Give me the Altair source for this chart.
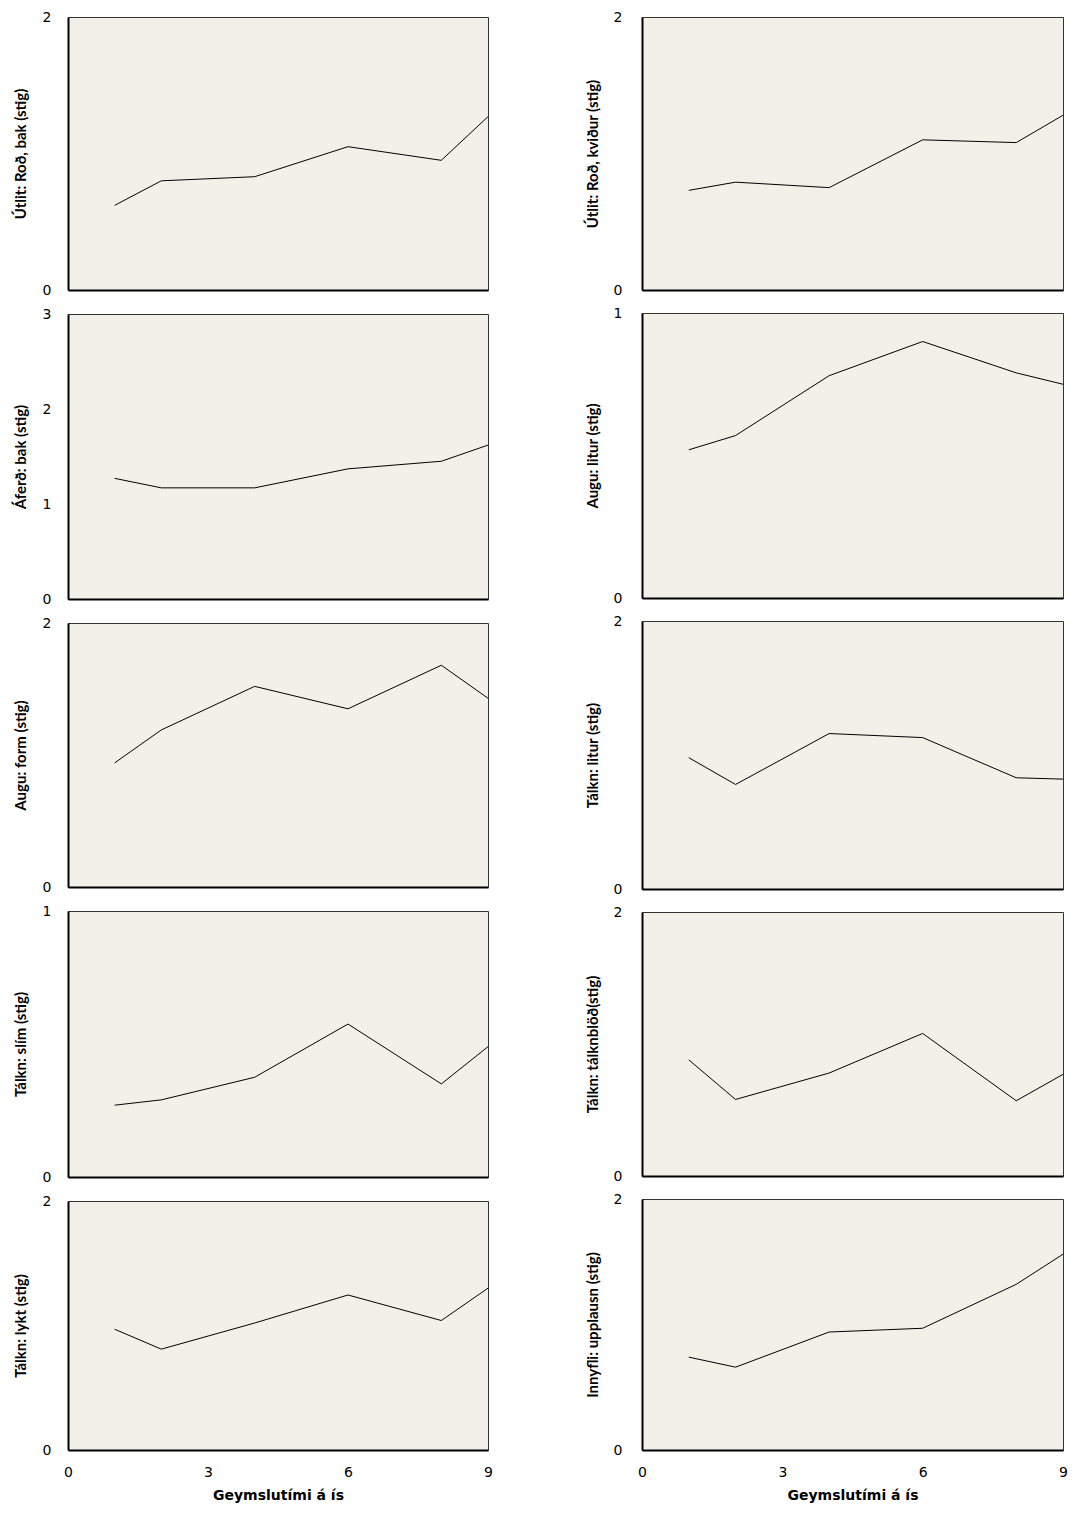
import altair as alt
import pandas as pd

# ---- data ----
days = [1, 2, 4, 6, 8, 9]
x_ticks = [0, 3, 6, 9]
x_title = "Geymslutími á ís"

left_titles = [
    "Útlit: Roð, bak (stig)",
    "Áferð: bak (stig)",
    "Augu: form (stig)",
    "Tálkn: slím (stig)",
    "Tálkn: lykt (stig)",
]
left_ymax = [2, 3, 2, 1, 2]
left_values = [
    [0.62, 0.80, 0.83, 1.05, 0.95, 1.27],
    [1.27, 1.17, 1.17, 1.37, 1.45, 1.62],
    [0.94, 1.19, 1.52, 1.35, 1.68, 1.43],
    [0.27, 0.29, 0.375, 0.575, 0.35, 0.49],
    [0.97, 0.81, 1.02, 1.245, 1.04, 1.30],
]

right_titles = [
    "Útlit: Roð, kviður (stig)",
    "Augu: litur (stig)",
    "Tálkn: litur (stig)",
    "Tálkn: tálknblöð(stig)",
    "Innyfli: upplausn (stig)",
]
right_ymax = [2, 1, 2, 2, 2]
right_values = [
    [0.73, 0.79, 0.75, 1.10, 1.08, 1.28],
    [0.52, 0.57, 0.78, 0.90, 0.79, 0.75],
    [0.98, 0.78, 1.16, 1.13, 0.83, 0.82],
    [0.88, 0.58, 0.78, 1.08, 0.57, 0.77],
    [0.74, 0.66, 0.94, 0.97, 1.32, 1.56],
]

left_heights = [273, 285, 264, 266, 249]
right_heights = [273, 285, 268, 264, 251]

TICK_FONT = "DejaVu Sans"
TITLE_FONT = "Lato"


def panel(title, values, ymax, width, height, bottom, label_pad, title_pad):
    df = pd.DataFrame({"dagar": days, "stig": values})
    if bottom:
        xaxis = alt.Axis(
            values=x_ticks, ticks=False, grid=False, labelFlush=False,
            format="d",
            domainColor="black", domainWidth=2,
            labelFont=TICK_FONT, labelFontSize=14, labelColor="black",
            labelPadding=15,
            titleFont=TICK_FONT, titleFontSize=14, titleFontWeight="bold",
            titleColor="black", titlePadding=9,
        )
        xenc = alt.X("dagar:Q", title=x_title, axis=xaxis,
                     scale=alt.Scale(domain=[0, 9], nice=False))
    else:
        xaxis = alt.Axis(
            values=x_ticks, ticks=False, grid=False, labels=False,
            domainColor="black", domainWidth=2,
        )
        xenc = alt.X("dagar:Q", title=None, axis=xaxis,
                     scale=alt.Scale(domain=[0, 9], nice=False))
    yaxis = alt.Axis(
        values=list(range(ymax + 1)), ticks=False, grid=False, format="d",
        domainColor="black", domainWidth=2,
        labelFont=TICK_FONT, labelFontSize=14, labelColor="black",
        labelPadding=label_pad,
        titleFont=TITLE_FONT, titleFontSize=15, titleFontWeight="bold",
        titleColor="black", titlePadding=title_pad,
    )
    yenc = alt.Y("stig:Q", title=title, axis=yaxis,
                 scale=alt.Scale(domain=[0, ymax], nice=False))
    return alt.Chart(df).mark_line(color="black", strokeWidth=1).encode(
        x=xenc, y=yenc
    ).properties(width=width, height=height)


left_panels = [
    panel(t, v, m, 420, h, i == 4, 17, 14)
    for i, (t, v, m, h) in enumerate(zip(left_titles, left_values, left_ymax, left_heights))
]
right_panels = [
    panel(t, v, m, 421, h, i == 4, 20, 13)
    for i, (t, v, m, h) in enumerate(zip(right_titles, right_values, right_ymax, right_heights))
]

left_col = alt.vconcat(*left_panels, spacing=24, bounds="flush")
right_col = alt.vconcat(*right_panels, spacing=23, bounds="flush")

chart = alt.hconcat(left_col, right_col, spacing=91).properties(
    padding={"left": 4, "top": 1, "right": 0, "bottom": 0},
    background="white",
).configure_view(
    fill="#F1F0E9", stroke="#333333", strokeWidth=1
)

chart.save("out.html", embed_options={"renderer": "svg", "actions": False})
